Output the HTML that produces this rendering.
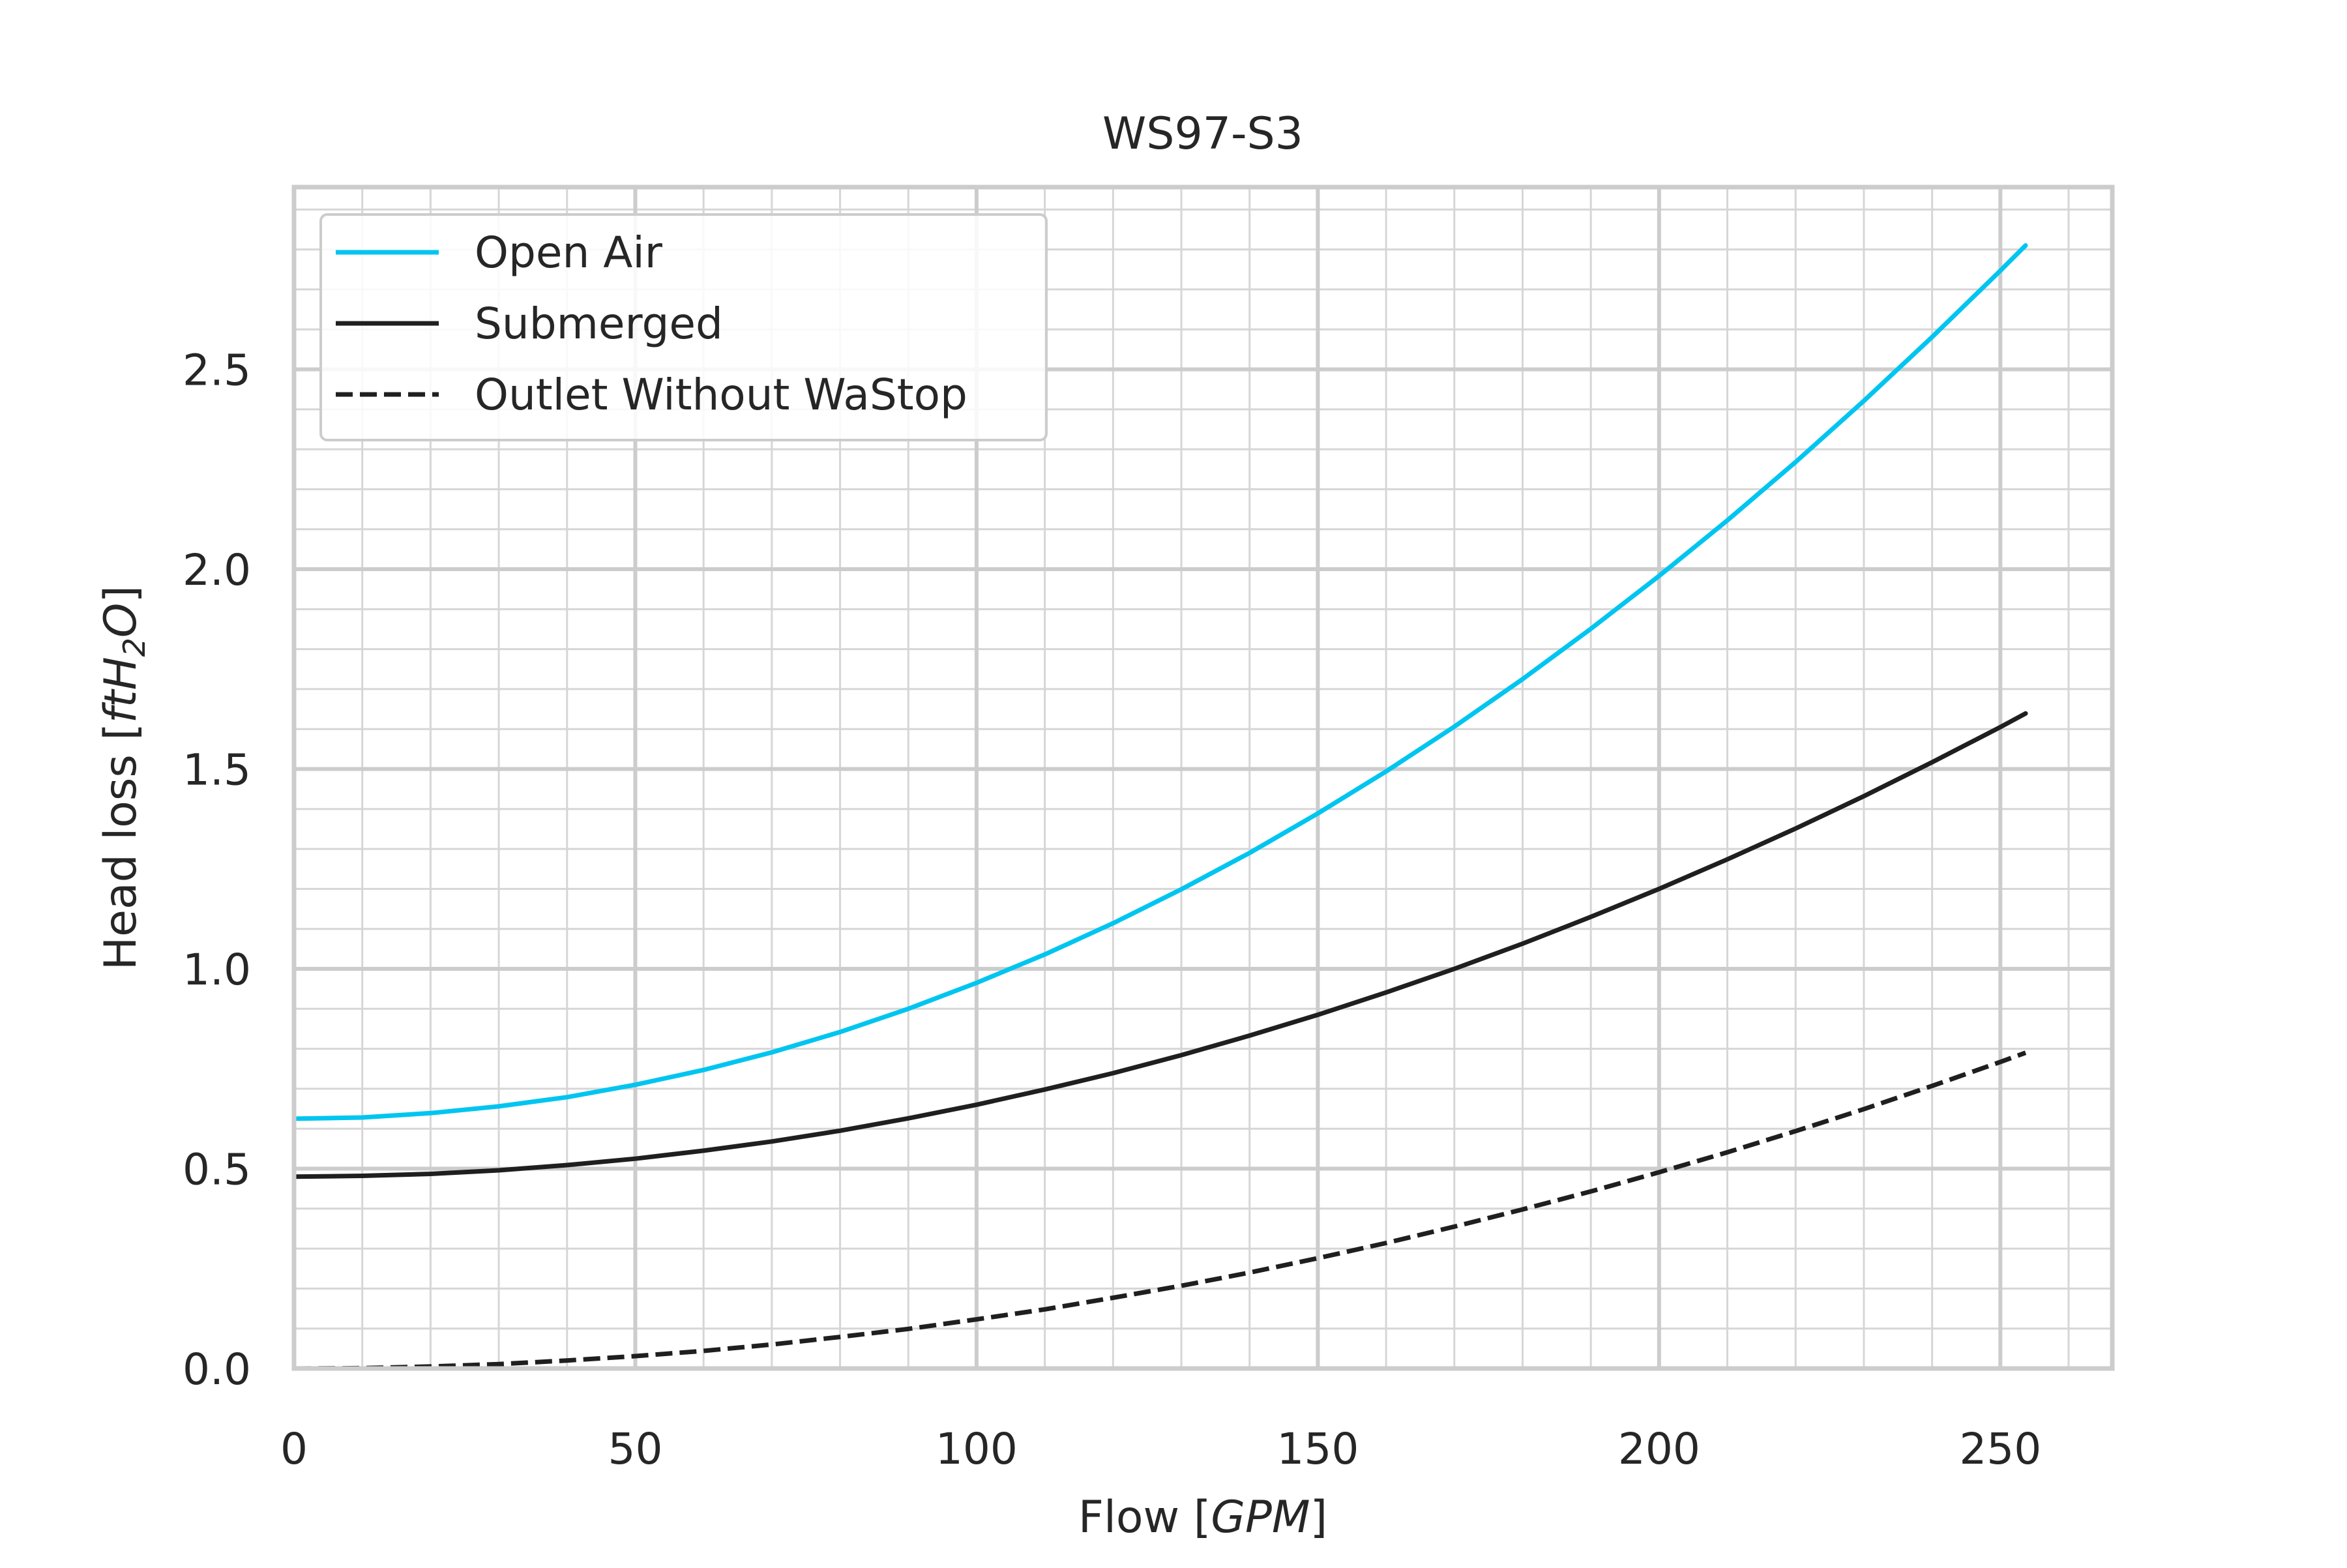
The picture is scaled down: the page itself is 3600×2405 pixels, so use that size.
<!DOCTYPE html>
<html><head><meta charset="utf-8"><style>
body{margin:0;background:#fff}
svg text{font-family:"DejaVu Sans","Liberation Sans",sans-serif;fill:#262626}
</style></head><body>
<svg id="chart" width="3600" height="2400" xmlns="http://www.w3.org/2000/svg">
<rect width="3600" height="2400" fill="#fff"/>
<g id="grid"></g>
<g id="series"></g>
<rect x="451" y="287" width="2789" height="1812" fill="none" stroke="#cccccc" stroke-width="7"/>
<g id="ticks"></g>
<text x="1845" y="228" font-size="68" text-anchor="middle">WS97-S3</text>
<text x="1845" y="2350" font-size="68" text-anchor="middle">Flow [<tspan font-style="italic">GPM</tspan>]</text>
<text transform="translate(208,1193) rotate(-90)" font-size="68" text-anchor="middle">Head loss [<tspan font-style="italic">ftH</tspan><tspan font-style="italic" font-size="46" dy="14">2</tspan><tspan font-style="italic" dy="-14">O</tspan>]</text>
<g>
<rect x="492" y="329" width="1113" height="346" rx="10" fill="#fff" fill-opacity="0.85" stroke="#cccccc" stroke-width="4"/>
<line x1="515" y1="387" x2="673" y2="387" stroke="#00c5f0" stroke-width="7"/>
<text x="728" y="410" font-size="66">Open Air</text>
<line x1="515" y1="496" x2="673" y2="496" stroke="#1f1f1f" stroke-width="7"/>
<text x="728" y="519" font-size="66">Submerged</text>
<line x1="515" y1="605" x2="673" y2="605" stroke="#1f1f1f" stroke-width="7" stroke-dasharray="26,11"/>
<text x="728" y="628" font-size="66">Outlet Without WaStop</text>
</g>
</svg>
<script>
const flow=[0,10,20,30,40,50,60,70,80,90,100,110,120,130,140,150,160,170,180,190,200,210,220,230,240,250,253.7];
const openAir=[0.625,0.628,0.639,0.656,0.679,0.710,0.747,0.791,0.842,0.900,0.965,1.036,1.114,1.199,1.290,1.389,1.494,1.606,1.725,1.851,1.983,2.122,2.268,2.421,2.581,2.747,2.810];
const submerged=[0.480,0.482,0.487,0.496,0.509,0.525,0.545,0.568,0.595,0.626,0.660,0.698,0.739,0.784,0.833,0.885,0.941,1.000,1.063,1.130,1.200,1.274,1.351,1.432,1.517,1.605,1.639];
const outlet=[0,0.001,0.005,0.011,0.020,0.031,0.044,0.060,0.079,0.099,0.123,0.148,0.177,0.207,0.240,0.276,0.314,0.355,0.398,0.443,0.491,0.541,0.594,0.649,0.707,0.767,0.790];
const xTicks=[0,50,100,150,200,250];
const xTickLabels=["0","50","100","150","200","250"];
const yTicks=[0,0.5,1,1.5,2,2.5];
const yTickLabels=["0.0","0.5","1.0","1.5","2.0","2.5"];
const X0=451,X1=3240,Y0=2099,Y1=287,XMAX=266.4,YMAX=2.956;
function sx(v){return X0+v/XMAX*(X1-X0);}
function sy(v){return Y0-v/YMAX*(Y0-Y1);}
const NS="http://www.w3.org/2000/svg";
function mk(tag,parent,attrs){const e=document.createElementNS(NS,tag);for(const k in attrs)e.setAttribute(k,attrs[k]);parent.appendChild(e);return e;}
const grid=document.getElementById('grid');
for(let v=10;v<XMAX;v+=10){if(v%50===0)continue;const l=mk('line',grid,{x1:sx(v),x2:sx(v),y1:Y1,y2:Y0,stroke:'#d6d6d6','stroke-width':3});

}
for(let i=1;i*0.1<YMAX;i++){if(i%5===0)continue;const l=mk('line',grid,{x1:X0,x2:X1,y1:sy(i*0.1),y2:sy(i*0.1),stroke:'#d6d6d6','stroke-width':3});

}
const ticks=document.getElementById('ticks');
xTicks.forEach((v,i)=>{const l=mk('line',grid,{x1:sx(v),x2:sx(v),y1:Y1,y2:Y0,stroke:'#cccccc','stroke-width':6});


const t=mk('text',ticks,{x:sx(v),y:2245,'font-size':66,'text-anchor':'middle'});t.textContent=xTickLabels[i];

});
yTicks.forEach((v,i)=>{const l=mk('line',grid,{x1:X0,x2:X1,y1:sy(v),y2:sy(v),stroke:'#cccccc','stroke-width':6});


const t=mk('text',ticks,{x:385,y:sy(v)+24,'font-size':66,'text-anchor':'end'});t.textContent=yTickLabels[i];

});
const ser=document.getElementById('series');
function path(vals,color,dash,name){const d=flow.map((f,i)=>(i?'L':'M')+sx(f).toFixed(1)+','+sy(vals[i]).toFixed(1)).join(' ');
const p=mk('path',ser,{d:d,fill:'none',stroke:color,'stroke-width':7,'stroke-linecap':dash?'butt':'round','stroke-linejoin':'round'});
if(dash)p.setAttribute('stroke-dasharray',dash);

}
path(openAir,'#00c5f0',null,'open-air-line');
path(submerged,'#1f1f1f',null,'submerged-line');
path(outlet,'#1f1f1f','26,11','outlet-without-wastop-line');
</script>
</body></html>
